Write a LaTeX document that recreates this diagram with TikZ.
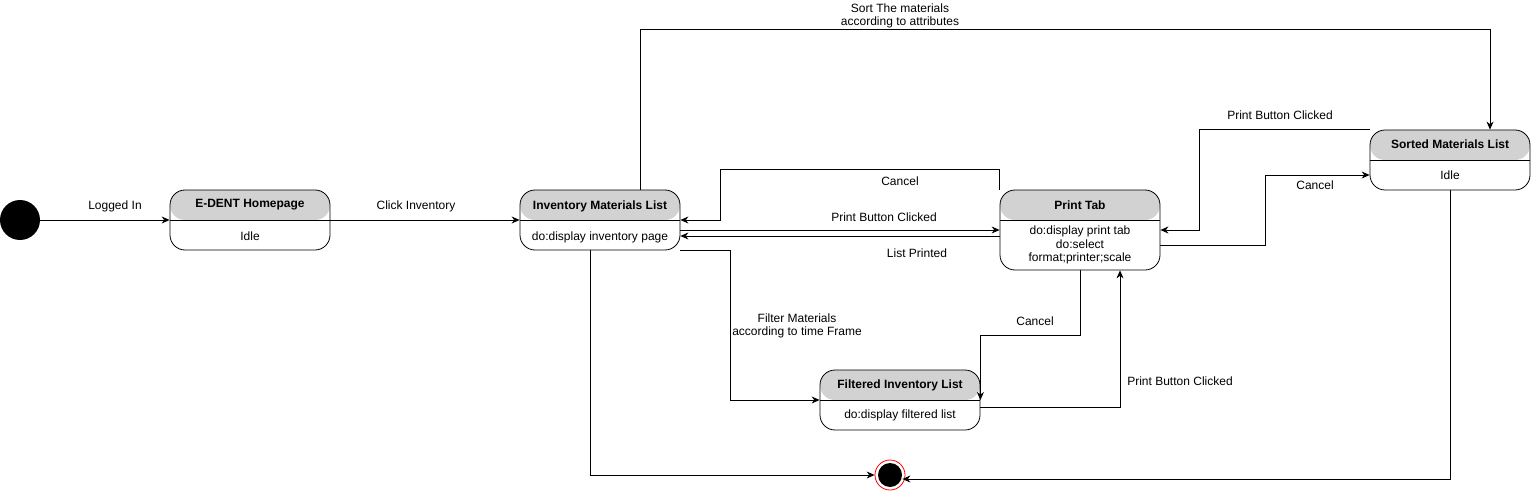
\documentclass[tikz,border=0pt]{standalone}
\usepackage{fontspec}
\setmainfont{Liberation Sans}
\usetikzlibrary{arrows.meta,calc}
\begin{document}
\begin{tikzpicture}[x=1pt,y=-1pt,
    state/.style={rectangle,draw,rounded corners=15pt,minimum width=160pt,minimum height=60pt,line width=0.8pt,inner sep=0,
      path picture={\fill[gray!35] (path picture bounding box.north west) rectangle ([yshift=-30pt]path picture bounding box.north east);
        \draw[line width=0.9pt] ([yshift=-30pt]path picture bounding box.north west) -- ([yshift=-30pt]path picture bounding box.north east);}},
    title/.style={font=\bfseries\fontsize{12}{14}\selectfont},
    body/.style={font=\fontsize{12}{13.5}\selectfont,align=center},
    lbl/.style={font=\fontsize{12}{13}\selectfont,align=center},
    arrow/.style={-{Stealth[length=8pt,width=7pt]},line width=0.8pt}]
    \useasboundingbox (0,0) rectangle (1531,492);
    \node[circle,fill,minimum size=40pt,inner sep=0] (start) at (20,220) {};
    \node[state] (home) at (250,220) {};
    \node[title] (hometitle) at (250,205) {E-DENT Homepage};
    \node[body] (homebody) at (250,236) {Idle};
    \node[state] (inv) at (600,220) {};
    \node[title] (invtitle) at (600,206) {Inventory Materials List};
    \node[body] (invbody) at (600,237) {do:display inventory page};
    \node[state,minimum height=80pt] (print) at (1080,230) {};
    \node[title] (printtitle) at (1080,205) {Print Tab};
    \node[body] (printbody) at (1080,245) {do:display print tab\\do:select\\format;printer;scale};
    \node[state] (sorted) at (1450,160) {};
    \node[title] (sortedtitle) at (1450,144) {Sorted Materials List};
    \node[body] (sortedbody) at (1450,175) {Idle};
    \node[state] (filtered) at (900,400) {};
    \node[title] (filteredtitle) at (900,385) {Filtered Inventory List};
    \node[body] (filteredbody) at (900,415) {do:display filtered list};
    \node[circle,draw=red,line width=0.8pt,minimum size=30pt,inner sep=0] (end) at (890,475) {};
    \node[circle,fill,minimum size=24pt,inner sep=0] (endin) at (end) {};
    \draw[arrow] (start) -- (home.west);
    \draw[arrow] (home.east) -- (inv.west);
    \draw[arrow] ($(inv.north)+(40,0)$) -- ++(0,-160) -| ($(sorted.north)+(40,0)$);
    \draw[arrow] (print.north west) -- ++(0,-20) -| ($(inv.east)+(40,0)$) -- (inv.east);
    \draw[arrow] ($(inv.east)+(0,10)$) -- (print.west);
    \draw[arrow] ($(print.west)+(0,6)$) -- ($(inv.east)+(0,16)$);
    \draw[arrow] ($(inv.south)+(-10,0)$) |- (end.west);
    \draw[arrow] (inv.south east) -- ++(50,0) |- (filtered.west);
    \draw[arrow] (print.south) -- ++(0,65) -| (filtered.east);
    \draw[arrow] ($(filtered.east)+(0,7)$) -| ($(print.south)+(40,0)$);
    \draw[arrow] (sorted.north west) -- ++(-170,0) |- (print.east);
    \draw[arrow] ($(print.east)+(0,15)$) -- ++(105,0) |- ($(sorted.west)+(0,15)$);
    \draw[arrow] (sorted.south) |- ($(end.east)+(-3,4)$);
    \node[lbl] (loggedin) at (115,206) {Logged In};
    \node[lbl] (clickinv) at (416,206) {Click Inventory};
    \node[lbl] (sortlbl) at (900,16) {Sort The materials\\according to attributes};
    \node[lbl] (cancelinv) at (900,181) {Cancel};
    \node[lbl] (printinv) at (884,217) {Print Button Clicked};
    \node[lbl] (printed) at (917,253) {List Printed};
    \node[lbl] (filterlbl) at (797,326) {Filter Materials\\according to time Frame};
    \node[lbl] (cancelfilt) at (1035,321) {Cancel};
    \node[lbl] (printfilt) at (1180,381) {Print Button Clicked};
    \node[lbl] (printsorted) at (1280,115) {Print Button Clicked};
    \node[lbl] (cancelsorted) at (1315,185) {Cancel};
\end{tikzpicture}
\end{document}
